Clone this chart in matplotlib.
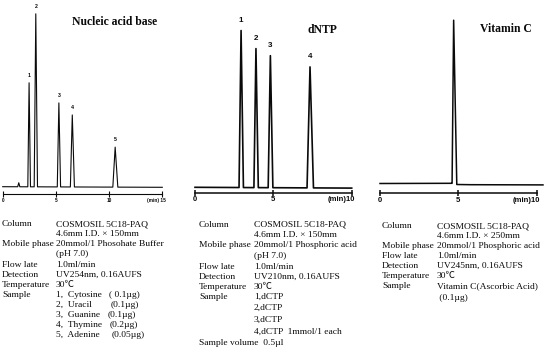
import numpy as np
import matplotlib
matplotlib.use('Agg')
import matplotlib.pyplot as plt

SERIF = ['Liberation Serif', 'Noto Sans CJK JP', 'DejaVu Serif']
SANS = ['Liberation Sans', 'DejaVu Sans']
INK = '#0a0a0a'

# ---- Nucleic acid base: retention time (min), peak height, foot half widths
nab_rt = [1.51, 2.48, 3.11, 5.28, 6.54, 10.57]
nab_height = [4, 104, 173, 84, 72, 40]
nab_left = [0.10, 0.12, 0.15, 0.15, 0.18, 0.22]
nab_right = [0.10, 0.13, 0.16, 0.16, 0.20, 0.25]
nab_peak_no = ['', '1', '2', '3', '4', '5']
nab_base_t = [0, 15]
nab_base_y = [0, -0.6]

# ---- dNTP
dntp_rt = [2.94, 3.89, 4.81, 7.34]
dntp_height = [157, 139, 132, 121]
dntp_left = [0.13, 0.13, 0.14, 0.19]
dntp_right = [0.15, 0.15, 0.16, 0.22]
dntp_peak_no = ['1', '2', '3', '4']
dntp_base_t = [0, 10]
dntp_base_y = [0, -0.8]

# ---- Vitamin C
vitc_rt = [4.70]
vitc_height = [163.5]
vitc_left = [0.10]
vitc_right = [0.20]
vitc_peak_no = ['']
vitc_base_t = [0, 4.6, 4.9, 5.8, 10.4]
vitc_base_y = [0, 0.2, -1.0, -1.2, -1.4]

# ---- condition tables
nab_keys = ['Column', '', 'Mobile phase', '', 'Flow late', 'Detection',
            'Temperature', 'Sample', '', '', '', '']
nab_vals = ['COSMOSIL 5C18-PAQ', '4.6mm I.D. \u00d7 150mm', '20mmol/1 Phosohate Buffer',
            '(pH 7.0)', '1.0ml/min', 'UV254nm, 0.16AUFS', '30\u2103',
            '1,  Cytosine', '2,  Uracil', '3,  Guanine', '4,  Thymine', '5,  Adenine']
nab_amounts = ['( 0.1\u00b5g)', '(0.1\u00b5g)', '(0.1\u00b5g)', '(0.2\u00b5g)', '(0.05\u00b5g)']

dntp_keys = ['Column', '', 'Mobile phase', '', 'Flow late', 'Detection',
             'Temperature', 'Sample', '', '', '', 'Sample volume  0.5\u00b5l']
dntp_vals = ['COSMOSIL 5C18-PAQ', '4.6mm I.D. \u00d7 150mm', '20mmol/1 Phosphoric acid',
             '(pH 7.0)', '1.0ml/min', 'UV210nm, 0.16AUFS', '30\u2103',
             '1,dCTP', '2,dCTP', '3,dCTP', '4,dCTP  1mmol/1 each', '']

vitc_keys = ['Column', '', 'Mobile phase', 'Flow late', 'Detection',
             'Temperature', 'Sample', '']
vitc_vals = ['COSMOSIL 5C18-PAQ', '4.6mm I.D. \u00d7 250mm', '20mmol/1 Phosphoric acid',
             '1.0ml/min', 'UV245nm, 0.16AUFS', '30\u2103',
             'Vitamin C(Ascorbic Acid)', ' (0.1\u00b5g)']

W, H = 545, 352
fig = plt.figure(figsize=(W / 100, H / 100), dpi=100)


def build_trace(base_t, base_y, rt, height, left, right):
    pts = []
    for bt, by in zip(base_t, base_y):
        if not any(t - l <= bt <= t + r for t, l, r in zip(rt, left, right)):
            pts.append((bt, by))
    for t, h, l, r in zip(rt, height, left, right):
        b0 = np.interp(t - l, base_t, base_y)
        b1 = np.interp(t + r, base_t, base_y)
        bm = np.interp(t, base_t, base_y)
        pts += [(t - l, b0), (t, bm + h), (t + r, b1)]
    pts.sort()
    return np.array(pts)


def panel(x0, x1, spine, base, top, xmax, trace, rt, height, labels,
          lw, tick_fs, lab_fs, lab_off, axis_lw):
    ax = fig.add_axes([x0 / W, 1 - spine / H, (x1 - x0) / W, (spine - top) / H])
    ax.plot(trace[:, 0], trace[:, 1], color=INK, lw=lw, clip_on=False)
    ax.set_xlim(0, xmax)
    ax.set_ylim(base - spine, base - top)
    for s in ['top', 'right', 'left']:
        ax.spines[s].set_visible(False)
    ax.spines['bottom'].set_linewidth(axis_lw)
    ax.spines['bottom'].set_color(INK)
    ax.set_yticks([])
    ticks = list(range(0, xmax + 1, 5))
    ax.set_xticks(ticks, [str(t) for t in ticks[:-1]] + [''],
                  fontsize=tick_fs, fontweight='bold', family=SANS)
    ax.tick_params(axis='x', direction='inout', length=4, width=axis_lw,
                   pad=0.8, colors=INK)
    sep = ' ' if xmax == 15 else ''
    ax.annotate('(min)' + sep + str(xmax), xy=(xmax, 0),
                xycoords=('data', 'axes fraction'), xytext=(2.5, -2.8),
                textcoords='offset points', ha='right', va='top',
                fontsize=tick_fs, fontweight='bold', family=SANS, color=INK)
    for t, h, s in zip(rt, height, labels):
        if s:
            ax.annotate(s, xy=(t, h), xytext=(0, lab_off), textcoords='offset points',
                        ha='center', va='center', fontsize=lab_fs,
                        fontweight='bold', family=SANS, color=INK)
    ax.patch.set_alpha(0)
    return ax


nab_trace = build_trace(nab_base_t, nab_base_y, nab_rt, nab_height, nab_left, nab_right)
dntp_trace = build_trace(dntp_base_t, dntp_base_y, dntp_rt, dntp_height, dntp_left, dntp_right)
vitc_trace = build_trace(vitc_base_t, vitc_base_y, vitc_rt, vitc_height, vitc_left, vitc_right)

panel(2.7, 162.3, 194, 186.7, 4, 15, nab_trace, nab_rt, nab_height, nab_peak_no,
      0.8, 3.4, 3.8, 5, 0.8)
panel(195, 351.7, 192.5, 187.3, 10, 10, dntp_trace, dntp_rt, dntp_height, dntp_peak_no,
      1.2, 5.5, 5.8, 7, 1.1)
panel(380, 536.7, 193, 183.5, 10, 10, vitc_trace, vitc_rt, vitc_height, vitc_peak_no,
      1.1, 5.5, 5.8, 7, 1.1)


def ftext(x, y, s, **kw):
    fig.text(x / W, 1 - y / H, s, va='center', color=INK, **kw)


# panel titles
ftext(115, 22, 'Nucleic acid base', ha='center', fontsize=8.4, fontweight='bold', family=SERIF)
ftext(322.5, 30, 'dNTP', ha='center', fontsize=8.4, fontweight='bold', family=SERIF)
ftext(506, 29, 'Vitamin C', ha='center', fontsize=8.4, fontweight='bold', family=SERIF)

# condition tables
FS = 6.8
nab_rows = [224, 234, 244, 254, 265, 275, 285, 295, 305, 315, 325, 335]
for y, k, v in zip(nab_rows, nab_keys, nab_vals):
    ftext(2, y, k, fontsize=FS, family=SERIF)
    ftext(56, y, v, fontsize=FS, family=SERIF)
for y, a, x in zip(nab_rows[7:], nab_amounts, [109, 111, 108, 110, 112]):
    ftext(x, y, a, fontsize=FS, family=SERIF)

dntp_rows = [225, 235, 245, 256, 267, 277, 287, 297, 308, 320, 332, 343]
for y, k, v in zip(dntp_rows, dntp_keys, dntp_vals):
    ftext(199, y, k, fontsize=FS, family=SERIF)
    ftext(254, y, v, fontsize=FS, family=SERIF)

vitc_rows = [226, 236, 246, 256, 266, 276, 286, 298]
for y, k, v in zip(vitc_rows, vitc_keys, vitc_vals):
    ftext(382, y, k, fontsize=FS, family=SERIF)
    ftext(437, y, v, fontsize=FS, family=SERIF)

fig.savefig('out.png', dpi=100, facecolor='white')
